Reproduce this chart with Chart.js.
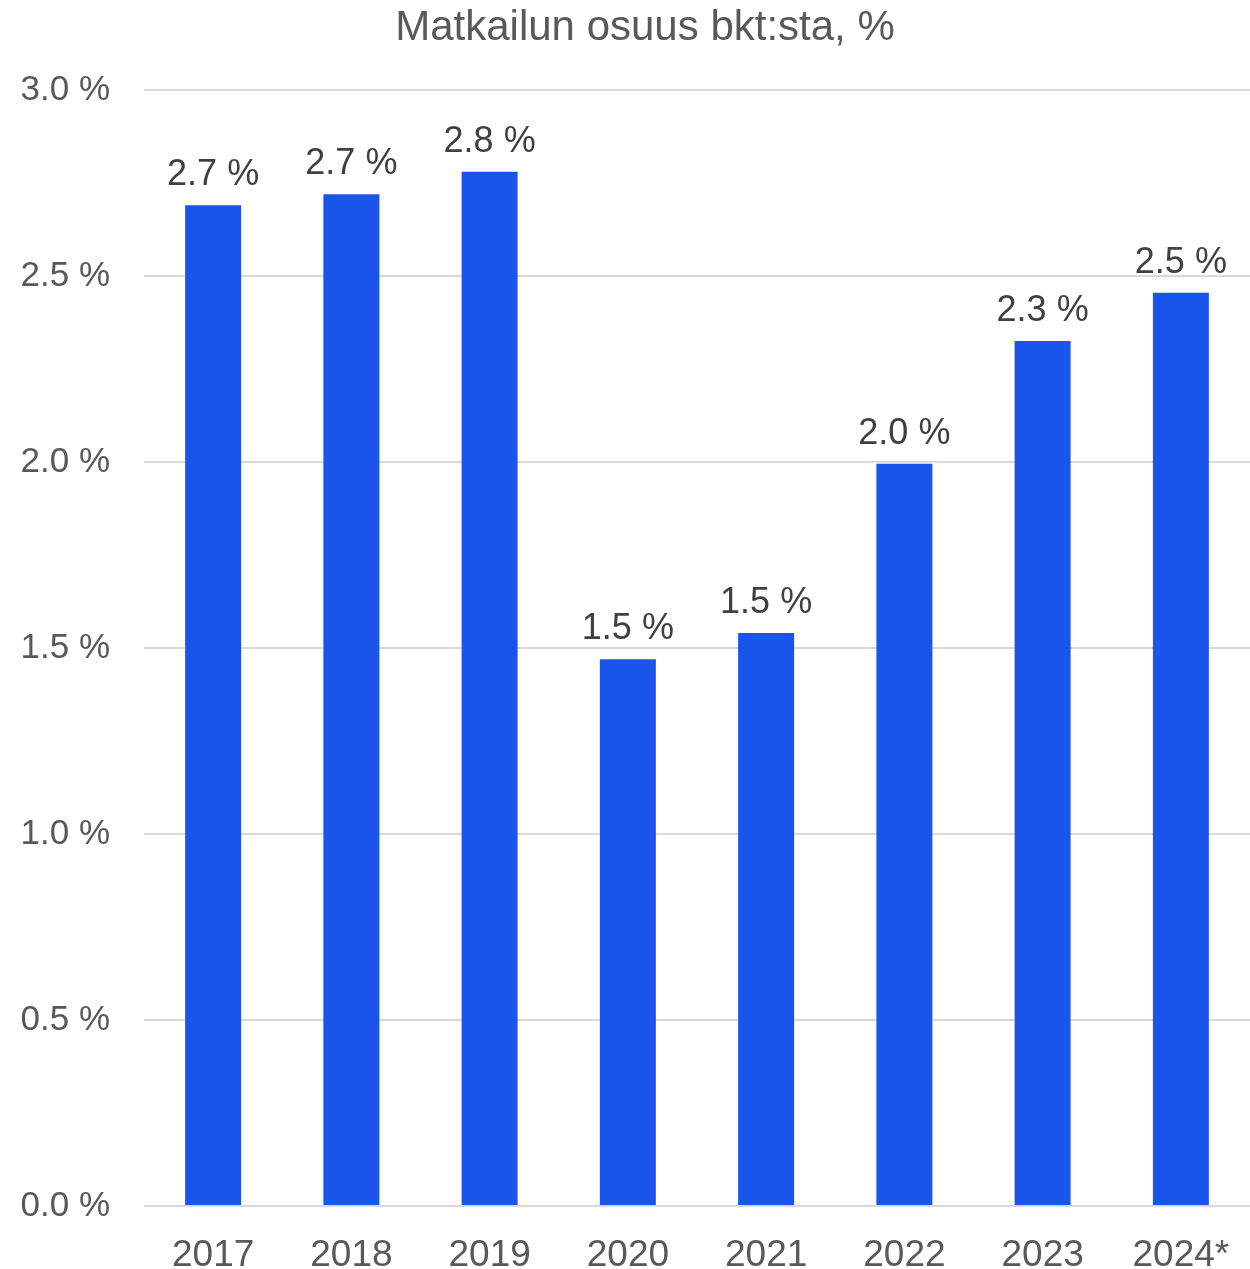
<!DOCTYPE html>
<html>
<head>
<meta charset="utf-8">
<script src="https://cdn.jsdelivr.net/npm/chart.js@4.4.1/dist/chart.umd.min.js"></script>
<style>
    html, body { margin: 0; padding: 0; background: #ffffff; }
    canvas { display: block; }
</style>
</head>
<body>
<canvas id="gdpChart" width="1250" height="1269"></canvas>
<script>
const years = ['2017', '2018', '2019', '2020', '2021', '2022', '2023', '2024*'];
const shares = [2.69, 2.72, 2.78, 1.47, 1.54, 1.995, 2.325, 2.455];
const yTicks = [0, 0.5, 1.0, 1.5, 2.0, 2.5, 3.0];
const chartTitle = 'Matkailun osuus bkt:sta, %';

const fontFamily = '"Liberation Sans", Arial, sans-serif';

// otsikko ja arvot pylväiden yläpuolelle
const barLabels = {
    id: 'barLabels',
    afterDatasetsDraw(chart) {
        const ctx = chart.ctx;
        const meta = chart.getDatasetMeta(0);
        ctx.save();
        ctx.font = '42px ' + fontFamily;
        ctx.fillStyle = '#595959';
        ctx.textAlign = 'center';
        ctx.textBaseline = 'middle';
        ctx.fillText(chartTitle, 645, 28);

        ctx.font = '36px ' + fontFamily;
        ctx.fillStyle = '#404040';
        ctx.textBaseline = 'alphabetic';
        meta.data.forEach((bar, i) => {
            ctx.fillText(shares[i].toFixed(1) + ' %', bar.x, bar.y - 20);
        });
        ctx.restore();
    }
};

const ctx = document.getElementById('gdpChart').getContext('2d');
new Chart(ctx, {
    type: 'bar',
    data: {
        labels: years,
        datasets: [{
            label: 'Matkailun osuus bkt:sta',
            data: shares,
            backgroundColor: '#1a55eb',
            borderWidth: 0,
            categoryPercentage: 1,
            barPercentage: 0.405
        }]
    },
    options: {
        responsive: false,
        animation: false,
        layout: { padding: { left: 0, right: 0, top: 90, bottom: 0 } },
        plugins: {
            legend: { display: false },
            tooltip: { enabled: false },
            title: { display: false }
        },
        scales: {
            x: {
                grid: { display: false },
                border: { display: false },
                ticks: {
                    color: '#595959',
                    font: { family: fontFamily, size: 37 },
                    padding: 20
                },
                afterFit: s => { s.height = 63; }
            },
            y: {
                min: 0,
                max: 3,
                afterBuildTicks: s => { s.ticks = yTicks.map(v => ({ value: v })); },
                grid: { color: '#d9d9d9', lineWidth: 2, drawTicks: false },
                border: { display: false },
                ticks: {
                    color: '#595959',
                    font: { family: fontFamily, size: 35 },
                    padding: 34,
                    callback: v => v.toFixed(1) + ' %'
                },
                afterFit: s => { s.width = 144; }
            }
        }
    },
    plugins: [barLabels]
});
</script>
</body>
</html>
